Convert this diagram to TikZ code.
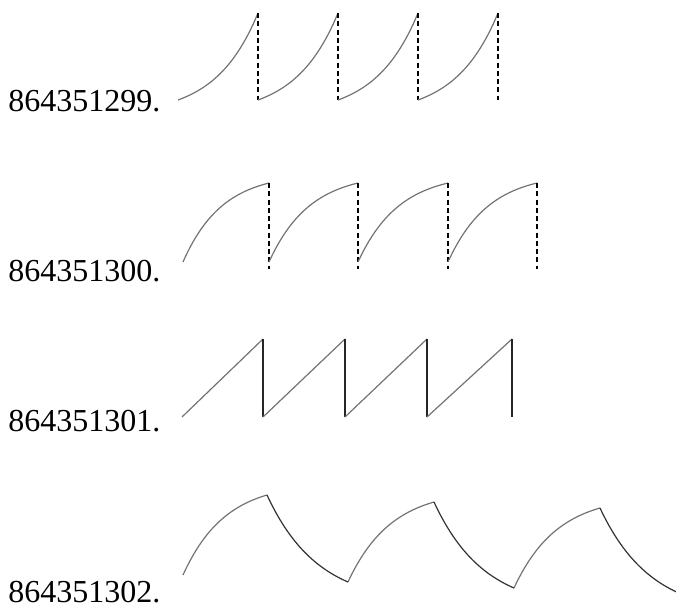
\documentclass[tikz,border=0pt]{standalone}
\usepackage{fontspec}
\setmainfont{Liberation Serif}
\begin{document}
\begin{tikzpicture}[x=0.75pt,y=-0.75pt,
  curve/.style={draw=black!55,line width=0.9pt},
  darkcurve/.style={draw=black!80,line width=0.9pt},
  jump/.style={draw=black,line width=1pt,dash pattern=on 3.8pt off 2.4pt},
  solidjump/.style={draw=black!85,line width=1pt},
  lab/.style={anchor=base west,inner sep=0pt,font=\fontsize{24pt}{28pt}\selectfont}]
\useasboundingbox (0,0) rectangle (676,613);

% labels
\node[lab] (l1) at (8,112) {864351299.};
\node[lab] (l2) at (8,282) {864351300.};
\node[lab] (l3) at (8,432) {864351301.};
\node[lab] (l4) at (8,602) {864351302.};

% panel 1: convex exponential rise, dashed drops
\foreach \a/\b in {178/258, 258/338, 338/418, 418/498}{
  \draw[curve] plot[domain=0:1,samples=40,smooth] ({\a+(\b-\a)*\x},{100-87*(exp(1.9*\x)-1)/(exp(1.9)-1)});
  \draw[jump] (\b,13) -- (\b,100);
}

% panel 2: concave rise, dashed drops
\foreach \a/\b in {183/269, 269/358, 358/448, 448/537}{
  \draw[curve] plot[domain=0:1,samples=40,smooth] ({\a+(\b-\a)*\x},{262-79*(1-(exp(2.2*(1-\x))-1)/(exp(2.2)-1))});
  \draw[jump] (\b,183) -- (\b,269);
}

% panel 3: linear sawtooth
\foreach \a/\b in {182/263, 263/345, 345/427, 427/512}{
  \draw[curve] (\a,417) -- (\b,339);
  \draw[solidjump] (\b,339) -- (\b,417);
}

% panel 4: rise and fall arcs
\foreach \a/\ya/\b/\yb in {183/575/267/495, 348/582/434/502, 514/588/600/508}{
  \draw[curve] plot[domain=0:1,samples=40,smooth] ({\a+(\b-\a)*\x},{\ya-(\ya-\yb)*(1-(exp(2*(1-\x))-1)/(exp(2)-1))});
}
\foreach \a/\ya/\b/\yb in {267/495/348/582, 434/502/514/588, 600/508/681/594}{
  \draw[darkcurve] plot[domain=0:1,samples=40,smooth] ({\a+(\b-\a)*\x},{\ya+(\yb-\ya)*(1-(exp(1.6*(1-\x))-1)/(exp(1.6)-1))});
}
\end{tikzpicture}
\end{document}
